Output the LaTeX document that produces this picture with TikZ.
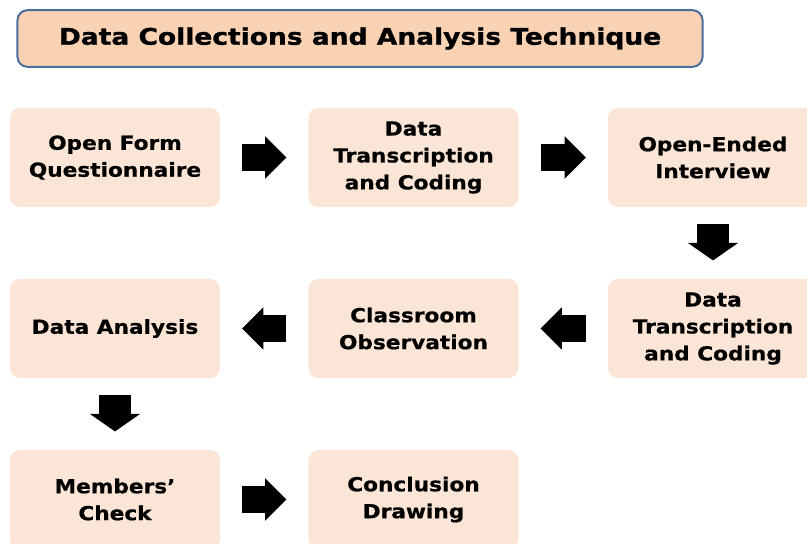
\documentclass[tikz,border=0pt]{standalone}
\usepackage{fontspec}
\setmainfont{DejaVu Sans}
\newfontfamily\boxfont{DejaVu Sans}[FakeStretch=1.12, FakeBold=0.6]
\newfontfamily\titlefont{DejaVu Sans}[FakeStretch=1.16, FakeBold=1.2]
\usepackage{tikz}
\usetikzlibrary{arrows.meta}
\definecolor{boxfill}{HTML}{FBE5D6}
\definecolor{titlefill}{HTML}{F9D2B4}
\definecolor{titleline}{HTML}{4A6F9C}
\tikzset{
every node/.style={rectangle, rounded corners=0.3cm, fill=boxfill, minimum width=6.3cm, minimum height=2.97cm, align=center, font=\boxfont\bfseries\fontsize{16.5}{23}\selectfont, inner sep=0pt},
title/.style={fill=titlefill, draw=titleline, line width=1.7pt, minimum width=20.55cm, minimum height=1.7cm, rounded corners=0.3cm, font=\titlefont\bfseries\fontsize{19.5}{23}\selectfont},
harrow/.style={line width=23pt, -{Triangle[length=18pt,width=36pt,line width=0pt]}, shorten <=0.66cm, shorten >=0.66cm},
varrow/.style={line width=27pt, -{Triangle[length=15pt,width=43pt,line width=0pt]}, shorten <=0.5cm, shorten >=0.55cm}
}

\begin{document}
\begin{tikzpicture}[x=0.03cm, y=-0.03cm]
\useasboundingbox (0,0) rectangle (807,544);
\clip (0,0) rectangle (807,544);
\node[title] (t) at (360,38.5) {Data Collections and Analysis Technique};

\node (1) at (115,157.5) {Open Form\\Questionnaire};
\node (2) at (413.5,157.5) {Data\\Transcription\\and Coding};
\node (3) at (713,157.5) {Open-Ended\\Interview};
\node (4) at (713,328.5) {Data\\Transcription\\and Coding};
\node (5) at (413.5,328.5) {Classroom\\Observation};
\node (6) at (115,328.5) {Data Analysis};
\node (7) at (115,499.5) {Members’\\Check};
\node (8) at (413.5,499.5) {Conclusion\\Drawing};

\draw[harrow] (1) -- (2);
\draw[harrow] (2) -- (3);
\draw[varrow] (3) -- (4);
\draw[harrow] (4) -- (5);
\draw[harrow] (5) -- (6);
\draw[varrow] (6) -- (7);
\draw[harrow] (7) -- (8);
\end{tikzpicture}
\end{document}
